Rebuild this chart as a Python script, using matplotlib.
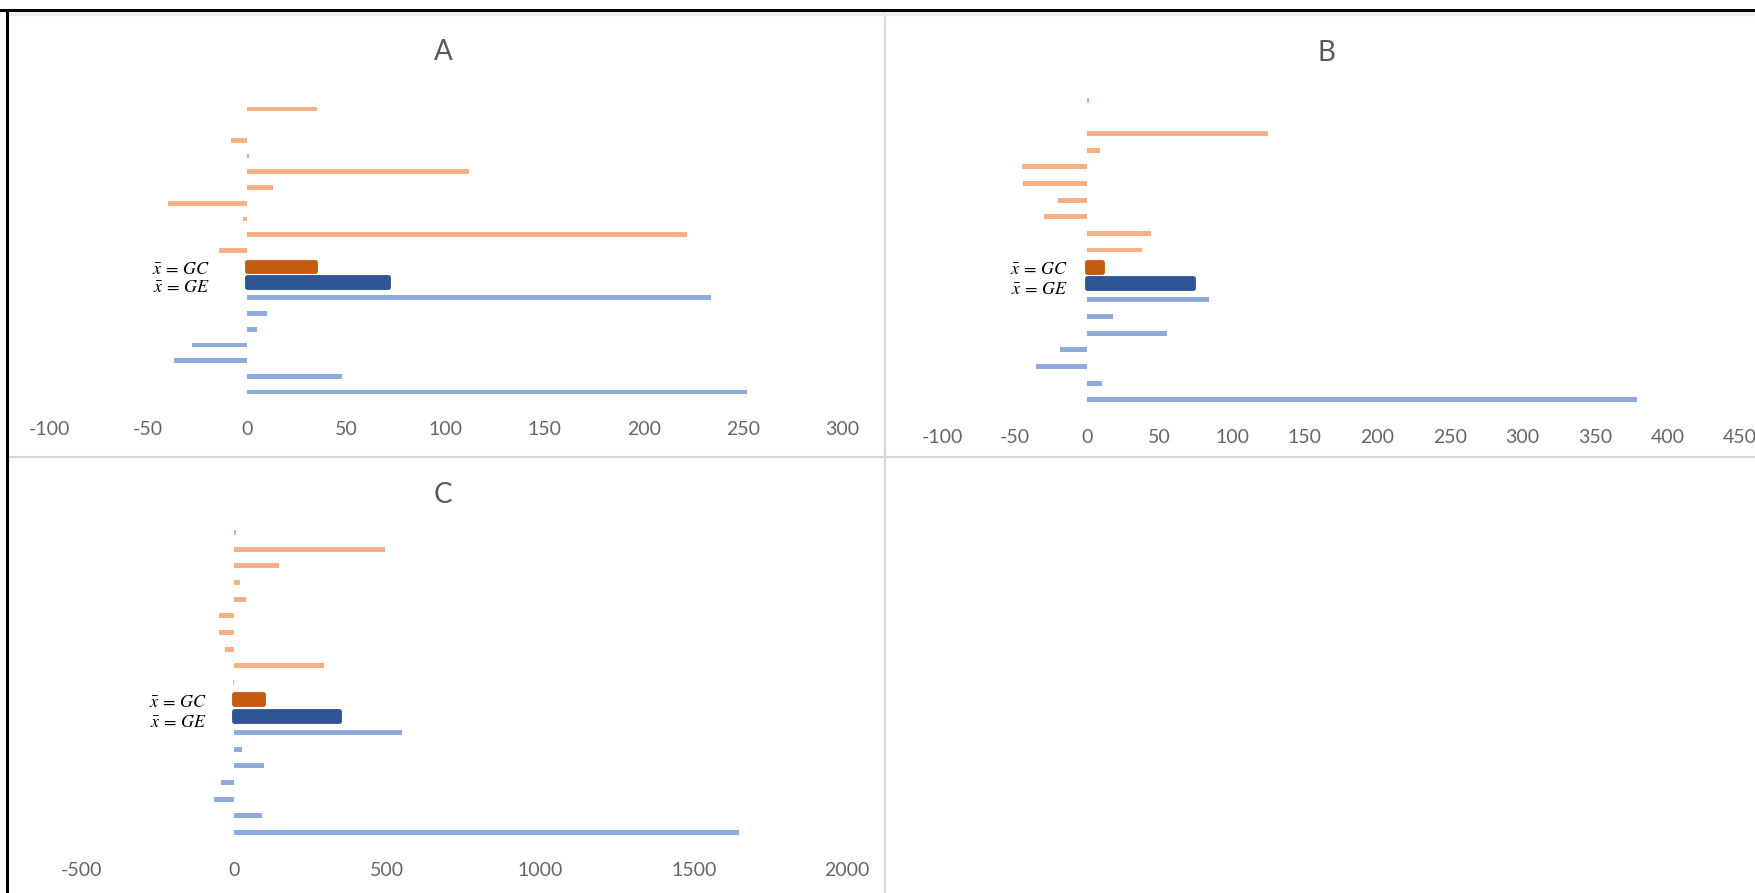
import matplotlib
matplotlib.use("Agg")
import matplotlib.pyplot as plt
import numpy as np
from matplotlib.lines import Line2D

# Values per panel, listed top row to bottom row
a_control = [35, 0, -8, 1, 112, 13, -40, -2, 222, -14]
a_mean_gc = 34
a_mean_ge = 71
a_exp = [234, 10, 5, -28, -37, 48, 252]

b_control = [1.5, 0, 125, 9, -45, -44, -20, -30, 44, 38]
b_mean_gc = 10
b_mean_ge = 73
b_exp = [84, 18, 55, -19, -35, 10, 379]

c_control = [5, 493, 147, 18, 37, -51, -51, -29, 293, -5]
c_mean_gc = 95
c_mean_ge = 341
c_exp = [548, 27, 97, -42, -66, 90, 1648]

a_ticks = [-100, -50, 0, 50, 100, 150, 200, 250, 300]
b_ticks = [-100, -50, 0, 50, 100, 150, 200, 250, 300, 350, 400, 450]
c_ticks = [-500, 0, 500, 1000, 1500, 2000]

W, H = 1755, 893
LIGHT_ORANGE = "#F4B183"
LIGHT_BLUE = "#8FAADC"
DARK_ORANGE = "#C55A11"
DARK_BLUE = "#2F5597"
TEXT_GREY = "#666666"

plt.rcParams["font.family"] = ["Lato", "DejaVu Sans"]
plt.rcParams["mathtext.fontset"] = "stix"


def px_rect(x0, y0, x1, y1):
    return [x0 / W, 1 - y1 / H, (x1 - x0) / W, (y1 - y0) / H]


def draw_panel(fig, rect, control, gc, ge, exp, ticks, label_x):
    ax = fig.add_axes(rect)
    n_c, n_e = len(control), len(exp)
    y_c = np.arange(n_c)
    y_gc, y_ge = n_c, n_c + 1
    y_e = np.arange(n_e) + n_c + 2

    ax.barh(y_c, control, height=0.3, color=LIGHT_ORANGE)
    ax.barh(y_e, exp, height=0.3, color=LIGHT_BLUE)
    ax.barh([y_gc], [gc], height=0.6, color=DARK_ORANGE,
            edgecolor=DARK_ORANGE, linewidth=3.5, joinstyle="round")
    ax.barh([y_ge], [ge], height=0.6, color=DARK_BLUE,
            edgecolor=DARK_BLUE, linewidth=3.5, joinstyle="round")

    ax.text(label_x, y_gc + 0.15, r"$\bar{x}\,=\,GC$", ha="right", va="center",
            fontsize=13, color="black")
    ax.text(label_x, y_ge + 0.35, r"$\bar{x}\,=\,GE$", ha="right", va="center",
            fontsize=13, color="black")

    ax.set_ylim(n_c + n_e + 2 - 0.5, -0.5)
    ax.set_xlim(ticks[0], ticks[-1])
    ax.set_xticks(ticks)
    ax.set_xticklabels([str(t) for t in ticks])
    ax.set_yticks([])
    ax.tick_params(axis="x", length=0, pad=15, labelsize=14, labelcolor=TEXT_GREY)
    for s in ax.spines.values():
        s.set_visible(False)
    ax.patch.set_alpha(0)
    return ax


fig = plt.figure(figsize=(W / 100, H / 100), dpi=100)

draw_panel(fig, px_rect(49, 101, 842, 400), a_control, a_mean_gc, a_mean_ge,
           a_exp, a_ticks, -19)
draw_panel(fig, px_rect(942, 92, 1740, 408), b_control, b_mean_gc, b_mean_ge,
           b_exp, b_ticks, -13)
draw_panel(fig, px_rect(81, 524, 847, 841), c_control, c_mean_gc, c_mean_ge,
           c_exp, c_ticks, -88)

# panel titles
for txt, x, y in [("A", 443, 52), ("B", 1326, 53), ("C", 443, 495)]:
    fig.text(x / W, 1 - y / H, txt, ha="center", va="center",
             fontsize=20, color="#595959")


def fig_line(x0, y0, x1, y1, color, lw):
    fig.add_artist(Line2D([x0 / W, x1 / W], [1 - y0 / H, 1 - y1 / H],
                          transform=fig.transFigure, color=color, linewidth=lw))


# grid dividers between the panels
fig_line(885, 12, 885, H, "#d9d9d9", 1.6)
fig_line(8, 457, W, 457, "#d9d9d9", 1.6)
# faint shade under the frame, then the outer frame (top and left edges)
fig_line(8, 14, W, 14, "#ececec", 2.5)
fig_line(0, 10, W, 10, "black", 2.2)
fig_line(7, 10, 7, H, "black", 2.2)

fig.savefig("out.png", dpi=100)
